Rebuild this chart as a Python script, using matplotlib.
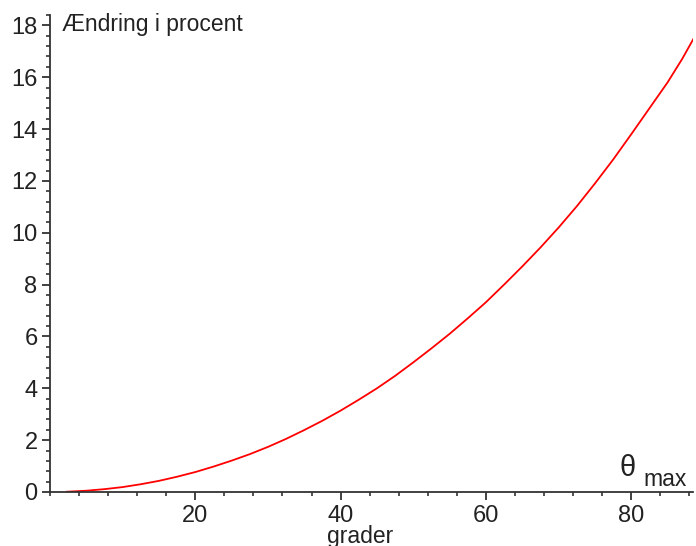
import matplotlib
matplotlib.use("Agg")
import matplotlib.pyplot as plt
from matplotlib.ticker import MultipleLocator

# amplitude in degrees and percent change of the period
theta = [2.3, 5, 7.5, 10, 12.5, 15, 17.5, 20, 22.5, 25, 27.5, 30, 32.5, 35,
         37.5, 40, 42.5, 45, 47.5, 50, 52.5, 55, 57.5, 60, 62.5, 65, 67.5,
         70, 72.5, 75, 77.5, 80, 82.5, 85, 87, 88.6]
change = [0.01, 0.05, 0.11, 0.19, 0.30, 0.43, 0.59, 0.77, 0.98, 1.21, 1.46,
          1.74, 2.05, 2.39, 2.75, 3.14, 3.56, 4.0, 4.48, 5.0, 5.54, 6.1,
          6.7, 7.32, 8.0, 8.7, 9.43, 10.2, 11.02, 11.9, 12.82, 13.8, 14.8,
          15.8, 16.7, 17.5]

x_ticks = [20, 40, 60, 80]
y_ticks = [0, 2, 4, 6, 8, 10, 12, 14, 16, 18]


def main():
    plt.rcParams['font.family'] = ['Liberation Sans', 'DejaVu Sans']

    fig = plt.figure(figsize=(6.96, 5.46), dpi=100)
    ax = fig.add_axes([50 / 696, 1 - 492 / 546, 643 / 696, 477 / 546])

    ax.plot(theta, change, color="red", linewidth=1.3)

    ax.set_xlim(0, 88.5)
    ax.set_ylim(0, 18.4)
    ax.set_xticks(x_ticks)
    ax.set_yticks(y_ticks)
    ax.xaxis.set_minor_locator(MultipleLocator(4))
    ax.yaxis.set_minor_locator(MultipleLocator(0.4))

    for side in ["top", "right"]:
        ax.spines[side].set_visible(False)
    for side in ["left", "bottom"]:
        ax.spines[side].set_color("#333333")
        ax.spines[side].set_linewidth(1.3)

    ax.tick_params(which="major", direction="out", length=6, width=1.3,
                   color="#333333", labelsize=17, labelcolor="#222222", pad=3)
    ax.tick_params(which="minor", direction="out", length=3, width=1.2,
                   color="#333333")

    fig.text(62 / 696, 1 - 25 / 546, "Ændring i procent", fontsize=16.5,
             color="#222222", va="center", ha="left")
    fig.text(628 / 696, 1 - 468 / 546, "θ", fontsize=21, color="#222222",
             va="center", ha="center")
    fig.text(665 / 696, 1 - 479 / 546, "max", fontsize=16.5, color="#222222",
             va="center", ha="center")
    fig.text(360 / 696, 1 - 536 / 546, "grader", fontsize=16.5, color="#222222",
             va="center", ha="center")

    fig.savefig("out.png", dpi=100)


if __name__ == "__main__":
    main()
